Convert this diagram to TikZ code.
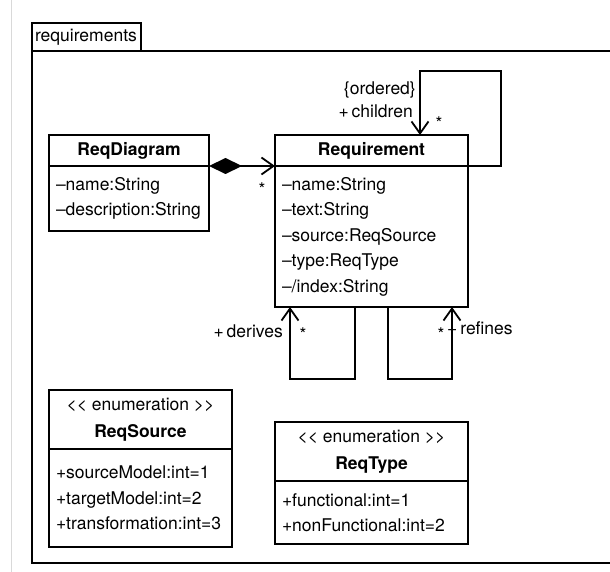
\documentclass[tikz,border=0pt]{standalone}
\usepackage{fontspec}
\setmainfont{TeX Gyre Heros}
\usetikzlibrary{positioning,arrows.meta}
\tikzset{
  classhead/.style={draw, line width=1.8pt, outer sep=0pt, inner sep=0pt, minimum height=31pt, font=\bfseries\fontsize{17.5}{18}\selectfont},
  enumhead/.style={draw, line width=1.8pt, outer sep=0pt, inner sep=0pt, minimum height=59pt, align=center, font=\fontsize{17.5}{27}\selectfont},
  classbody/.style={draw, line width=1.8pt, outer sep=0pt, inner xsep=7pt, inner ysep=0pt, align=left, font=\fontsize{17.5}{25.5}\selectfont},
  assoc/.style={line width=1.8pt, -{Straight Barb[length=12pt,width=17pt]}},
  lbl/.style={inner sep=0pt, font=\fontsize{17.5}{18}\selectfont}
}
\begin{document}
\begin{tikzpicture}
			[x=1pt, y=-1pt]
			\useasboundingbox (0,0) rectangle (610,572);
			\draw[gray!30, line width=1pt] (11,0) -- (11,572);
			% package frame
			\node[draw, line width=1.6pt, outer sep=0pt, anchor=south west, minimum height=28pt, text width=103pt, inner xsep=3pt, inner ysep=0pt, align=left, font=\fontsize{17.5}{18}\selectfont] (tab) at (32,51) {requirements};
			\draw[line width=1.6pt] (614,51) -- (tab.south west) -- (32,563) -- (614,563);
			% classes
			\node[classhead, minimum width=160pt, anchor=north west] (rdH) at (49,135) {ReqDiagram};
			\node[classbody, text width=146pt, minimum height=65pt, below=0pt of rdH] (rdB) {–name:String\\–description:String};
			\node[classhead, minimum width=193pt, anchor=north west] (rqH) at (275,135) {Requirement};
			\node[classbody, text width=179pt, minimum height=141pt, below=0pt of rqH] (rqB) {–name:String\\–text:String\\–source:ReqSource\\–type:ReqType\\–/index:String};
			\node[enumhead, minimum width=183pt, anchor=north west] (rsH) at (49,390) {<{}< enumeration >{}>\\\textbf{ReqSource}};
			\node[classbody, text width=169pt, minimum height=98pt, below=0pt of rsH] (rsB) {+sourceModel:int=1\\+targetModel:int=2\\+transformation:int=3};
			\node[enumhead, minimum width=193pt, anchor=north west] (rtH) at (275,422) {<{}< enumeration >{}>\\\textbf{ReqType}};
			\node[classbody, text width=179pt, minimum height=63pt, below=0pt of rtH] (rtB) {+functional:int=1\\+nonFunctional:int=2};
			% associations
			\coordinate (ch) at (420,135);
			\coordinate (dvA) at (290,307);
			\coordinate (dvB) at (355,307);
			\coordinate (rfA) at (388,307);
			\coordinate (rfB) at (452,307);
			\draw[line width=1.8pt, {Diamond[length=33pt,width=16pt]}-{Straight Barb[length=12pt,width=17pt]}] (rdH.south east) -- (rqH.south west);
			\draw[assoc] (rqH.south east) -| ++(33,-95) -| (ch);
			\draw[assoc] (dvB) -- ++(0,72) -| (dvA);
			\draw[assoc] (rfA) -- ++(0,72) -| (rfB);
			% labels
			\node[lbl, anchor=east] (ord) at (416,90) {\{ordered\}};
			\node[lbl, anchor=east] (chl) at (413,111) {+\,children};
			\node[lbl, anchor=east] (der) at (283,331) {+\,derives};
			\node[lbl, anchor=west] (ref) at (447,328) {+\,refines};
			\node[lbl] (s1) at (262,189) {*};
			\node[lbl] (s2) at (439,123) {*};
			\node[lbl] (s3) at (303,334) {*};
			\node[lbl] (s4) at (441,334) {*};
			\end{tikzpicture}
\end{document}
